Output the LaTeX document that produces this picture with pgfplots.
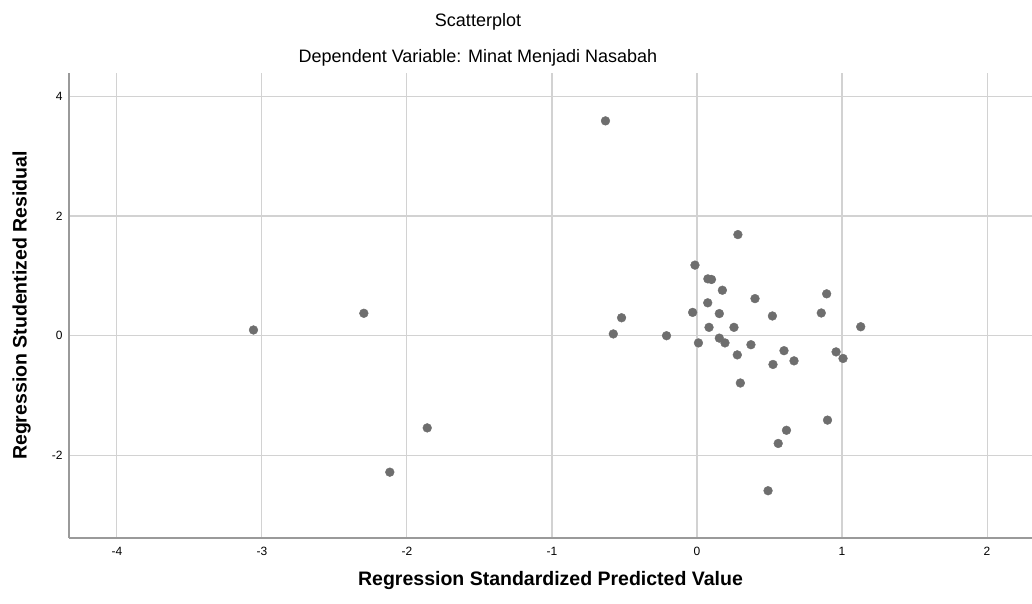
\documentclass[border=0pt]{standalone}
\usepackage{fontspec}
\setmainfont{Liberation Sans}
\usepackage{pgfplots}
\pgfplotsset{compat=1.18}
\definecolor{dotgray}{HTML}{6E6E6E}
\definecolor{gridgray}{HTML}{D2D2D2}
\definecolor{spinegray}{HTML}{9A9A9A}
\begin{document}
\begin{tikzpicture}
\path[use as bounding box] (-69pt,-65pt) rectangle (963pt,538pt);
\begin{axis}[
    at={(0pt,0pt)}, anchor=south west,
    scale only axis,
    width=963pt, height=465pt,
    xmin=-4.33, xmax=2.31,
    ymin=-3.38, ymax=4.39,
    xtick={-4,-3,-2,-1,0,1,2},
    ytick={-2,0,2,4},
    axis x line*=bottom,
    axis y line*=left,
    axis line style={spinegray, line width=1.5pt},
    major tick length=0pt,
    grid=major,
    grid style={gridgray, line width=1.1pt},
    /pgf/number format/assume math mode=true,
    ticklabel style={font=\fontsize{12}{14}\selectfont},
    xticklabel style={yshift=-6pt},
    yticklabel style={xshift=-3pt},
    xlabel={Regression Standardized Predicted Value},
    ylabel={Regression Studentized Residual},
    xlabel style={font=\bfseries\fontsize{19.5}{23}\selectfont, at={(axis description cs:0.5,0)}, anchor=center, yshift=-42pt},
    ylabel style={font=\bfseries\fontsize{19.5}{23}\selectfont, at={(axis description cs:-0.0493,0.5)}, anchor=center},
]
\addplot[only marks, mark=*, mark size=4.4pt, mark options={fill=dotgray, draw=dotgray}]
    coordinates {
    (-3.058,0.096) (-2.297,0.375) (-2.118,-2.28) (-1.860,-1.54)
    (-0.631,3.59) (-0.577,0.03) (-0.520,0.30) (-0.210,0.00)
    (-0.014,1.18) (0.075,0.95) (0.100,0.94) (0.175,0.76)
    (0.400,0.62) (0.894,0.70) (0.074,0.55) (-0.030,0.39)
    (0.154,0.37) (0.520,0.33) (0.857,0.38) (0.083,0.14)
    (0.255,0.14) (1.129,0.15) (0.010,-0.12) (0.154,-0.04)
    (0.193,-0.12) (0.372,-0.15) (0.600,-0.25) (0.278,-0.32)
    (0.669,-0.42) (0.959,-0.27) (1.007,-0.38) (0.524,-0.48)
    (0.299,-0.79) (0.900,-1.41) (0.617,-1.58) (0.560,-1.80)
    (0.490,-2.59) (0.282,1.69)
    };
\end{axis}
\node[font=\fontsize{18}{21}\selectfont] at (409pt,516pt) {Scatterplot};
\node[font=\fontsize{18}{21}\selectfont] at (409pt,480pt) {Dependent Variable: Minat Menjadi Nasabah};
\end{tikzpicture}
\end{document}
